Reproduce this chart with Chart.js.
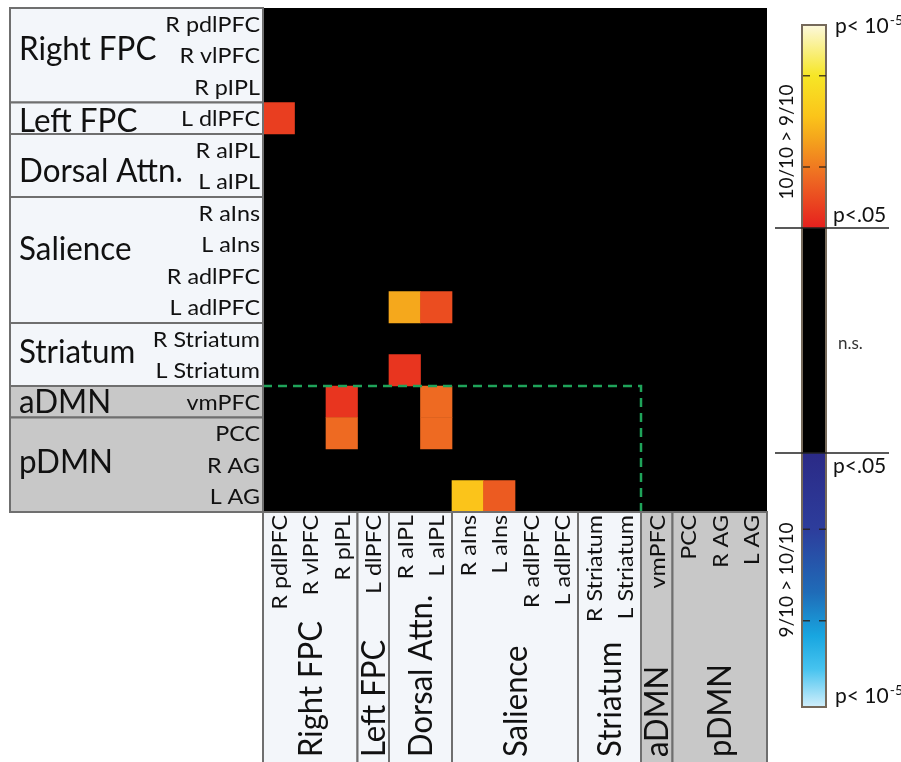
<!DOCTYPE html>
<html>
<head>
<meta charset="utf-8">
<script src="https://cdn.jsdelivr.net/npm/chart.js@4.4.1/dist/chart.umd.min.js"></script>
<style>
  html, body { margin: 0; padding: 0; background: #fff; }
  canvas { display: block; }
</style>
</head>
<body>
<canvas id="matrixChart" width="901" height="762"></canvas>
<script>
// regions - same order for rows and columns
var regions = ['R pdlPFC', 'R vlPFC', 'R pIPL', 'L dlPFC', 'R aIPL', 'L aIPL',
    'R aIns', 'L aIns', 'R adlPFC', 'L adlPFC', 'R Striatum', 'L Striatum',
    'vmPFC', 'PCC', 'R AG', 'L AG'];
var networks = ['Right FPC', 'Left FPC', 'Dorsal Attn.', 'Salience', 'Striatum', 'aDMN', 'pDMN'];
var networkSizes = [3, 1, 2, 4, 2, 1, 3];
var greyNetworks = ['aDMN', 'pDMN'];

// significant cells (10/10 > 9/10), value = -log10(p)
var cellRows = ['L dlPFC', 'L adlPFC', 'L adlPFC', 'L Striatum', 'vmPFC', 'vmPFC', 'PCC', 'PCC', 'L AG', 'L AG'];
var cellCols = ['R pdlPFC', 'R aIPL', 'L aIPL', 'R aIPL', 'R pIPL', 'L aIPL', 'R pIPL', 'L aIPL', 'R aIns', 'L aIns'];
var cellLogP = [1.67, 2.97, 1.86, 1.56, 1.56, 2.23, 2.23, 2.23, 3.34, 2.04];

// colour bar range: p<.05 .. p<10^-5
var logPMin = -Math.log10(0.05);
var logPMax = 5;

var warmStops = [[0, '#e6201e'], [0.25, '#ee6a22'], [0.45, '#f5a81c'], [0.55, '#fbc41a'], [0.75, '#f6e626'], [1, '#fcf8dc']];
var coolStops = [[0, '#2b2a86'], [0.3, '#2d3d9c'], [0.55, '#1f6cb8'], [0.72, '#18a6e0'], [0.85, '#46c3ef'], [1, '#d2effb']];

// small vertical nudges of the row group names (as placed in the figure)
var groupNudge = [-7, 2, 5, -12, -3, 0, -3];

function hexToRgb(h) {
    return [parseInt(h.substr(1, 2), 16), parseInt(h.substr(3, 2), 16), parseInt(h.substr(5, 2), 16)];
}

function colourAt(stops, t) {
    t = Math.max(0, Math.min(1, t));
    for (var i = 1; i < stops.length; i++) {
        if (t <= stops[i][0]) {
            var a = hexToRgb(stops[i - 1][1]), b = hexToRgb(stops[i][1]);
            var k = (t - stops[i - 1][0]) / (stops[i][0] - stops[i - 1][0]);
            return 'rgb(' + Math.round(a[0] + (b[0] - a[0]) * k) + ',' +
                Math.round(a[1] + (b[1] - a[1]) * k) + ',' + Math.round(a[2] + (b[2] - a[2]) * k) + ')';
        }
    }
    return stops[stops.length - 1][1];
}

var cellData = cellRows.map(function (r, i) {
    var row = regions.indexOf(r);
    return { x: cellCols[i], y: [row, row + 1] };
});
var cellColours = cellLogP.map(function (v) {
    return colourAt(warmStops, (v - logPMin) / (logPMax - logPMin));
});

var FONT = 'Lato, "Open Sans", sans-serif';
var INK = '#111';
var BORDER = '#6f6f6f';

function capText(c, s, x, y, size, align, rot, sx) {
    // draws text with its cap-height centred on (x, y), stretched by sx along the text
    c.save();
    c.translate(x, y);
    if (rot) c.rotate(rot);
    c.scale(sx || 1, 1);
    c.font = size + 'px ' + FONT;
    c.textAlign = align;
    c.textBaseline = 'alphabetic';
    c.fillStyle = INK;
    c.fillText(s, 0, size * 0.36);
    c.restore();
}

function pText(c, x, y) {
    // "p< 10^-5" with a raised exponent
    c.save();
    c.font = '21px ' + FONT;
    c.fillStyle = INK;
    c.textBaseline = 'alphabetic';
    c.fillText('p< 10', x, y);
    var w = c.measureText('p< 10').width;
    c.font = '14px ' + FONT;
    c.fillText('-5', x + w + 1, y - 8);
    c.restore();
}

var matrixPlugin = {
    id: 'matrixFrame',
    beforeDatasetsDraw: function (chart) {
        var a = chart.chartArea, c = chart.ctx;
        c.save();
        c.fillStyle = '#000';
        c.fillRect(a.left, a.top, a.right - a.left, a.bottom - a.top);
        c.restore();
    },
    afterDatasetsDraw: function (chart) {
        // dashed outline: DMN rows x non-DMN columns
        var a = chart.chartArea, c = chart.ctx;
        var xs = chart.scales.x, ys = chart.scales.y;
        var half = (xs.getPixelForValue(1) - xs.getPixelForValue(0)) / 2;
        var yTop = ys.getPixelForValue(regions.indexOf('vmPFC'));
        var xRight = xs.getPixelForValue(regions.indexOf('vmPFC')) - half;
        c.save();
        c.strokeStyle = '#1fa35a';
        c.lineWidth = 2.5;
        c.setLineDash([9, 6]);
        c.beginPath();
        c.moveTo(a.left, yTop);
        c.lineTo(xRight, yTop);
        c.lineTo(xRight, a.bottom);
        c.stroke();
        c.restore();
    },
    afterDraw: function (chart) {
        var a = chart.chartArea, c = chart.ctx;
        var xs = chart.scales.x, ys = chart.scales.y;
        var half = (xs.getPixelForValue(1) - xs.getPixelForValue(0)) / 2;
        var boxLeft = 10, boxBottom = 762;

        var start = 0;
        networks.forEach(function (name, g) {
            var n = networkSizes[g];
            var fill = greyNetworks.indexOf(name) >= 0 ? '#c8c8c8' : '#f3f6fa';

            // row group box
            var y0 = ys.getPixelForValue(start), y1 = ys.getPixelForValue(start + n);
            c.save();
            c.fillStyle = fill;
            c.fillRect(boxLeft, y0, a.left - boxLeft, y1 - y0);
            c.strokeStyle = BORDER;
            c.lineWidth = 2;
            c.strokeRect(boxLeft, y0, a.left - boxLeft, y1 - y0);
            c.restore();
            capText(c, name, 19, (y0 + y1) / 2 + groupNudge[g], 32, 'left', 0, 0.98);

            // column group box
            var x0 = xs.getPixelForValue(start) - half, x1 = xs.getPixelForValue(start + n - 1) + half;
            c.save();
            c.fillStyle = fill;
            c.fillRect(x0, a.bottom, x1 - x0, boxBottom - a.bottom);
            c.strokeStyle = BORDER;
            c.lineWidth = 2;
            c.strokeRect(x0, a.bottom, x1 - x0, boxBottom - a.bottom + 4);
            c.restore();
            capText(c, name, (x0 + x1) / 2, boxBottom - 5, 32, 'left', -Math.PI / 2, 0.97);

            // region labels
            for (var i = start; i < start + n; i++) {
                capText(c, regions[i], a.left - 3, ys.getPixelForValue(i + 0.5), 22, 'right', 0, 1.06);
                capText(c, regions[i], xs.getPixelForValue(i), a.bottom + 3, 22, 'right', -Math.PI / 2, 1.06);
            }
            start += n;
        });

        // colour bar
        var cbL = 802, cbW = 24, cbTop = 25, cbWarm = 228, cbCool = 453, cbBot = 707;
        c.save();
        var gw = c.createLinearGradient(0, cbWarm, 0, cbTop);
        warmStops.forEach(function (s) { gw.addColorStop(s[0], s[1]); });
        c.fillStyle = gw;
        c.fillRect(cbL, cbTop, cbW, cbWarm - cbTop);
        c.fillStyle = '#000';
        c.fillRect(cbL, cbWarm, cbW, cbCool - cbWarm);
        var gc = c.createLinearGradient(0, cbCool, 0, cbBot);
        coolStops.forEach(function (s) { gc.addColorStop(s[0], s[1]); });
        c.fillStyle = gc;
        c.fillRect(cbL, cbCool, cbW, cbBot - cbCool);

        c.strokeStyle = '#75695a';
        c.lineWidth = 2;
        c.strokeRect(cbL, cbTop, cbW, cbBot - cbTop);

        // dashed marks inside the bar
        c.strokeStyle = 'rgba(40,30,20,0.8)';
        c.lineWidth = 1.5;
        c.setLineDash([7, 9]);
        [cbWarm - 0.3 * (cbWarm - cbTop), cbWarm - 0.75 * (cbWarm - cbTop),
         cbCool + 0.3 * (cbBot - cbCool), cbCool + 0.66 * (cbBot - cbCool)].forEach(function (y) {
            c.beginPath();
            c.moveTo(cbL + 1, y);
            c.lineTo(cbL + cbW, y);
            c.stroke();
        });
        c.setLineDash([]);

        // threshold lines
        c.strokeStyle = '#222';
        c.lineWidth = 1.5;
        [cbWarm, cbCool].forEach(function (y) {
            c.beginPath();
            c.moveTo(775, y);
            c.lineTo(889, y);
            c.stroke();
        });
        c.restore();

        pText(c, 835, 33);
        c.save();
        c.font = '21px ' + FONT;
        c.fillStyle = INK;
        c.fillText('p<.05', 833, cbWarm - 6);
        c.fillText('p<.05', 833, cbCool + 20);
        c.font = '17px ' + FONT;
        c.fillStyle = '#333';
        c.fillText('n.s.', 838, 349);
        c.restore();
        pText(c, 835, cbBot - 4);

        capText(c, '10/10 > 9/10', 786, 142, 19, 'center', -Math.PI / 2);
        capText(c, '9/10 > 10/10', 786, 580, 19, 'center', -Math.PI / 2);
    }
};

var ctx = document.getElementById('matrixChart').getContext('2d');
var matrixChart = new Chart(ctx, {
    type: 'bar',
    data: {
        labels: regions,
        datasets: [{
            label: '10/10 > 9/10',
            data: cellData,
            backgroundColor: cellColours,
            borderWidth: 0,
            barPercentage: 1,
            categoryPercentage: 1
        }]
    },
    options: {
        responsive: false,
        animation: false,
        devicePixelRatio: 1,
        layout: { padding: { left: 263, right: 134, top: 8, bottom: 250 } },
        scales: {
            x: { type: 'category', offset: true, display: false },
            y: { type: 'linear', min: 0, max: 16, reverse: true, display: false }
        },
        plugins: {
            legend: { display: false },
            tooltip: { enabled: false }
        }
    },
    plugins: [matrixPlugin]
});
</script>
</body>
</html>
